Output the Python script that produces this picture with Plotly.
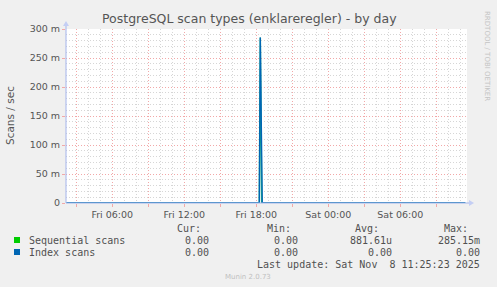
import plotly.graph_objects as go

# ---------------- data ----------------
seq_times = ["2025-11-07 02:10", "2025-11-07 18:15", "2025-11-07 18:20",
             "2025-11-07 18:27", "2025-11-08 11:25"]
seq_values = [0.0, 0.0, 0.28515, 0.0, 0.0]

idx_times = ["2025-11-07 02:10", "2025-11-07 18:15", "2025-11-07 18:20",
             "2025-11-07 18:30", "2025-11-08 11:25"]
idx_values = [0.0, 0.0, 0.28515, 0.0, 0.0]

x_tickvals = ["2025-11-07 03:00", "2025-11-07 06:00", "2025-11-07 09:00",
              "2025-11-07 12:00", "2025-11-07 15:00", "2025-11-07 18:00",
              "2025-11-07 21:00", "2025-11-08 00:00", "2025-11-08 03:00",
              "2025-11-08 06:00", "2025-11-08 09:00"]
x_ticktext = ["", "Fri 06:00", "", "Fri 12:00", "", "Fri 18:00",
              "", "Sat 00:00", "", "Sat 06:00", ""]

y_tickvals = [0, 0.05, 0.10, 0.15, 0.20, 0.25, 0.30]
y_ticktext = ["0", "50 m", "100 m", "150 m", "200 m", "250 m", "300 m"]

series_names = ["Sequential scans", "Index scans"]
series_colors = ["#00CC00", "#0066B3"]
stat_headers = ["Cur:", "Min:", "Avg:", "Max:"]
stat_rows = [["0.00", "0.00", "881.61u", "285.15m"],
             ["0.00", "0.00", "0.00", "0.00"]]

title = "PostgreSQL scan types (enklareregler) - by day"
y_title = "Scans / sec"
last_update = "Last update: Sat Nov \u00a08 11:25:23 2025"

# ---------------- layout helpers ----------------
W_PX, H_PX = 497, 287
PL, PR, PT, PB = 66, 467, 29, 203
PW, PH = PR - PL, PB - PT


def px(x):
    return (x - PL) / PW


def py(y):
    return (PB - y) / PH


SANS = "DejaVu Sans"
MONO = "DejaVu Sans Mono"
TXT = "#555555"
LEG = "#505050"
AXC = "#a4b4ec"

fig = go.Figure()
fig.add_trace(go.Scatter(x=seq_times, y=seq_values, mode="lines",
                         line=dict(color="#1aa88a", width=1.5),
                         name=series_names[0], showlegend=False))
fig.add_trace(go.Scatter(x=idx_times, y=idx_values, mode="lines",
                         line=dict(color=series_colors[1], width=1.3),
                         name=series_names[1], showlegend=False))

annotations = []
shapes = []

annotations.append(dict(text=title, x=px(249), y=py(19), xref="paper", yref="paper",
                        showarrow=False, xanchor="center", yanchor="middle",
                        font=dict(family=SANS, size=12.5, color=TXT)))
annotations.append(dict(text=y_title, x=px(10), y=py(116), xref="paper", yref="paper",
                        showarrow=False, xanchor="center", yanchor="middle", textangle=-90,
                        font=dict(family=SANS, size=10.5, color=TXT)))
annotations.append(dict(text="RRDTOOL / TOBI OETIKER", x=px(487), y=py(56), xref="paper",
                        yref="paper", showarrow=False, xanchor="center", yanchor="middle",
                        textangle=90, font=dict(family=SANS, size=7, color="#c4c4c4")))
annotations.append(dict(text="Munin 2.0.73", x=px(248), y=py(277), xref="paper", yref="paper",
                        showarrow=False, xanchor="center", yanchor="middle",
                        font=dict(family=SANS, size=7, color="#c0c0c0")))

head_right = [203, 293, 381, 470]
val_right = [211, 300, 394, 482]
for h, xr in zip(stat_headers, head_right):
    annotations.append(dict(text=h, x=px(xr), y=py(228), xref="paper", yref="paper",
                            showarrow=False, xanchor="right", yanchor="middle",
                            font=dict(family=MONO, size=10, color=LEG)))
row_y = [240, 252]
for name, col, vals, yy in zip(series_names, series_colors, stat_rows, row_y):
    shapes.append(dict(type="rect", xref="paper", yref="paper",
                       x0=px(14), x1=px(20), y0=py(yy + 3), y1=py(yy - 3),
                       fillcolor=col, line=dict(width=0)))
    annotations.append(dict(text=name, x=px(27), y=py(yy), xref="paper", yref="paper",
                            showarrow=False, xanchor="left", yanchor="middle",
                            font=dict(family=MONO, size=10, color=LEG)))
    for v, xr in zip(vals, val_right):
        annotations.append(dict(text=v, x=px(xr), y=py(yy), xref="paper", yref="paper",
                                showarrow=False, xanchor="right", yanchor="middle",
                                font=dict(family=MONO, size=10, color=LEG)))
annotations.append(dict(text=last_update, x=px(482), y=py(264), xref="paper", yref="paper",
                        showarrow=False, xanchor="right", yanchor="middle",
                        font=dict(family=MONO, size=10, color=LEG)))

shapes.append(dict(type="line", xref="paper", yref="paper", x0=px(PL), x1=px(470),
                   y0=0, y1=0, line=dict(color=AXC, width=1), layer="above"))
shapes.append(dict(type="line", xref="paper", yref="paper", x0=0, x1=0,
                   y0=0, y1=py(24), line=dict(color=AXC, width=1), layer="above"))
shapes.append(dict(type="path", xref="paper", yref="paper",
                   path=f"M {px(469)} {py(200)} L {px(474)} {py(203)} L {px(469)} {py(206)} Z",
                   fillcolor="#c4cef4", line=dict(width=0), layer="above"))
shapes.append(dict(type="path", xref="paper", yref="paper",
                   path=f"M {px(63)} {py(26)} L {px(66)} {py(21)} L {px(69)} {py(26)} Z",
                   fillcolor="#c4cef4", line=dict(width=0), layer="above"))

fig.update_layout(
    width=W_PX, height=H_PX,
    margin=dict(l=PL, r=W_PX - PR, t=PT, b=H_PX - PB, pad=0),
    paper_bgcolor="#F0F0F0", plot_bgcolor="#FFFFFF",
    showlegend=False,
    annotations=annotations, shapes=shapes,
    xaxis=dict(
        type="date",
        range=["2025-11-07 02:08:30", "2025-11-08 11:33:30"],
        tickmode="array", tickvals=x_tickvals, ticktext=x_ticktext,
        showgrid=True, gridcolor="#f2a8a8", griddash="1px,2px", gridwidth=1,
        minor=dict(dtick=3600000, tick0="2025-11-07 00:00", showgrid=True,
                   gridcolor="#d6d6d6", griddash="1px,2px", gridwidth=1),
        ticks="outside", ticklen=3, tickcolor="#f2a8a8",
        tickfont=dict(family=SANS, size=9.5, color=TXT),
        showline=False, zeroline=False, fixedrange=True,
    ),
    yaxis=dict(
        range=[0, 0.3],
        tickmode="array", tickvals=y_tickvals, ticktext=y_ticktext,
        showgrid=True, gridcolor="#f2a8a8", griddash="1px,2px", gridwidth=1,
        minor=dict(dtick=0.01, tick0=0, showgrid=True,
                   gridcolor="#d6d6d6", griddash="1px,2px", gridwidth=1),
        ticks="outside", ticklen=3, tickcolor="#f2a8a8",
        tickfont=dict(family=SANS, size=9.5, color=TXT),
        showline=False, zeroline=False, fixedrange=True,
    ),
)

fig.write_html("out.html")
